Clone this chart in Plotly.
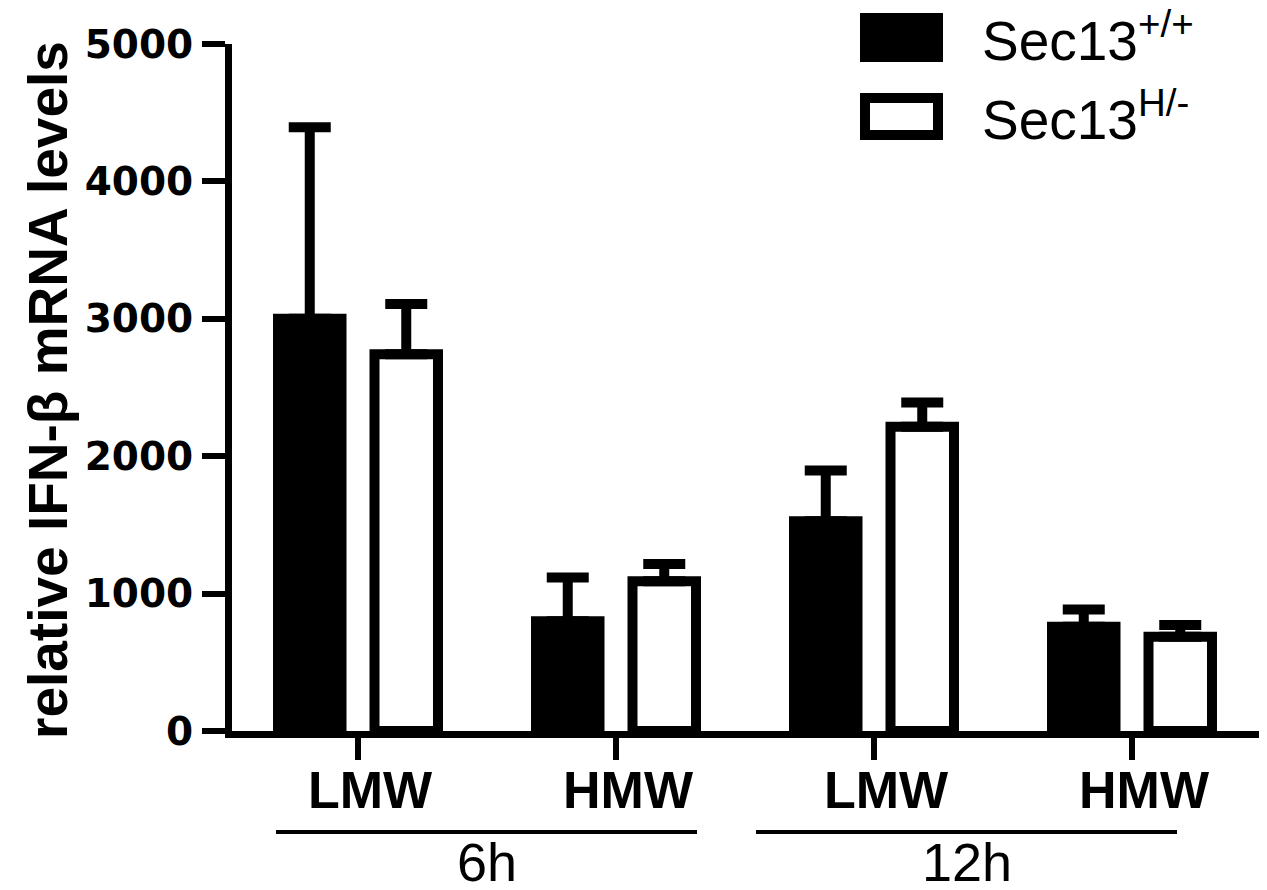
import numpy as np
import plotly.graph_objects as go

# ---- data ----
conditions = ["LMW", "HMW", "LMW", "HMW"]
timepoints = ["6h", "12h"]
series_names = ["Sec13<sup>+/+</sup>", "Sec13<sup>H/-</sup>"]
wt_values = [3001, 798, 1527, 759]
wt_errors = [1394, 320, 369, 126]
het_values = [2742, 1090, 2214, 686]
het_errors = [366, 125, 176, 85]
y_ticks = [0, 1000, 2000, 3000, 4000, 5000]
y_title = "relative IFN-β mRNA levels"

# page body has an 8px margin; work in window pixels and convert
OFF = 8
W, H = 1267 - OFF, 890 - OFF
L_WIN, B_WIN, T_WIN, R_WIN = 232, 731, 44, 1267
ML = L_WIN - OFF
MT = T_WIN - OFF
MB = H - (B_WIN - OFF)
MR = W - (R_WIN - OFF)
PW, PH = W - ML - MR, H - MT - MB


def px(x):
    return (x - OFF - ML) / PW


def py(y):
    return (H - MB - (y - OFF)) / PH


xpos = np.arange(len(conditions))
BLACK = "#000000"

fig = go.Figure()
fig.add_trace(go.Bar(
    x=xpos, y=wt_values, name=series_names[0],
    marker=dict(color=BLACK, line=dict(color=BLACK, width=10)),
    error_y=dict(type="data", array=wt_errors, arrayminus=[0] * len(wt_errors),
                 symmetric=False, color=BLACK, thickness=10, width=21),
    showlegend=False,
))
fig.add_trace(go.Bar(
    x=xpos, y=het_values, name=series_names[1],
    marker=dict(color="#ffffff", line=dict(color=BLACK, width=10)),
    error_y=dict(type="data", array=het_errors, arrayminus=[0] * len(het_errors),
                 symmetric=False, color=BLACK, thickness=10, width=21),
    showlegend=False,
))

unit = 258.0
x_left = (L_WIN - 358) / unit
x_right = x_left + PW / unit

fig.update_layout(
    width=W, height=H,
    margin=dict(l=ML, r=MR, t=MT, b=MB, autoexpand=False),
    paper_bgcolor="white", plot_bgcolor="white",
    barmode="group", bargap=0.252, bargroupgap=0.342,
    xaxis=dict(
        range=[x_left, x_right], tickvals=list(xpos), ticktext=conditions,
        showline=True, linecolor=BLACK, linewidth=7,
        ticks="outside", ticklen=22, tickwidth=6, tickcolor=BLACK,
        showgrid=False, zeroline=False,
        tickfont=dict(family="Liberation Sans, Arial", size=52, color=BLACK, weight="bold"),
        ticklabelshift=12, ticklabelstandoff=-14,
    ),
    yaxis=dict(
        range=[0, 5000], tickvals=y_ticks,
        showline=True, linecolor=BLACK, linewidth=7,
        ticks="outside", ticklen=23, tickwidth=6, tickcolor=BLACK,
        showgrid=False, zeroline=False,
        tickfont=dict(family="DejaVu Sans", size=39, color=BLACK, weight="bold"),
        ticklabelstandoff=1,
    ),
)

# y axis title
fig.add_annotation(
    text=y_title, textangle=-90, xref="paper", yref="paper",
    x=px(48), y=py(390), xanchor="center", yanchor="middle", showarrow=False,
    font=dict(family="Liberation Sans, Arial", size=55, color=BLACK, weight="bold"),
)

# time point group lines and labels
group_spans = [(276, 697), (756, 1177)]
for label, (a, b) in zip(timepoints, group_spans):
    fig.add_shape(type="line", xref="paper", yref="paper",
                  x0=px(a), x1=px(b), y0=py(832), y1=py(832),
                  line=dict(color=BLACK, width=4))
    fig.add_annotation(text=label, xref="paper", yref="paper",
                       x=px((a + b) / 2), y=py(862), xanchor="center", yanchor="middle",
                       height=50, valign="middle", showarrow=False,
                       font=dict(family="Liberation Sans, Arial", size=54, color=BLACK))

# legend drawn manually
fig.add_shape(type="rect", xref="paper", yref="paper",
              x0=px(860), x1=px(943), y0=py(13), y1=py(62),
              fillcolor=BLACK, line=dict(width=0))
fig.add_shape(type="rect", xref="paper", yref="paper",
              x0=px(865), x1=px(938), y0=py(98), y1=py(135),
              fillcolor="white", line=dict(color=BLACK, width=10))
for name, yc in zip(series_names, [37, 116]):
    fig.add_annotation(text=name, xref="paper", yref="paper",
                       x=px(980), y=py(yc), xanchor="left", yanchor="middle",
                       height=66, valign="middle", showarrow=False,
                       font=dict(family="Liberation Sans, Arial", size=55, color=BLACK))

fig.write_html("out.html")
